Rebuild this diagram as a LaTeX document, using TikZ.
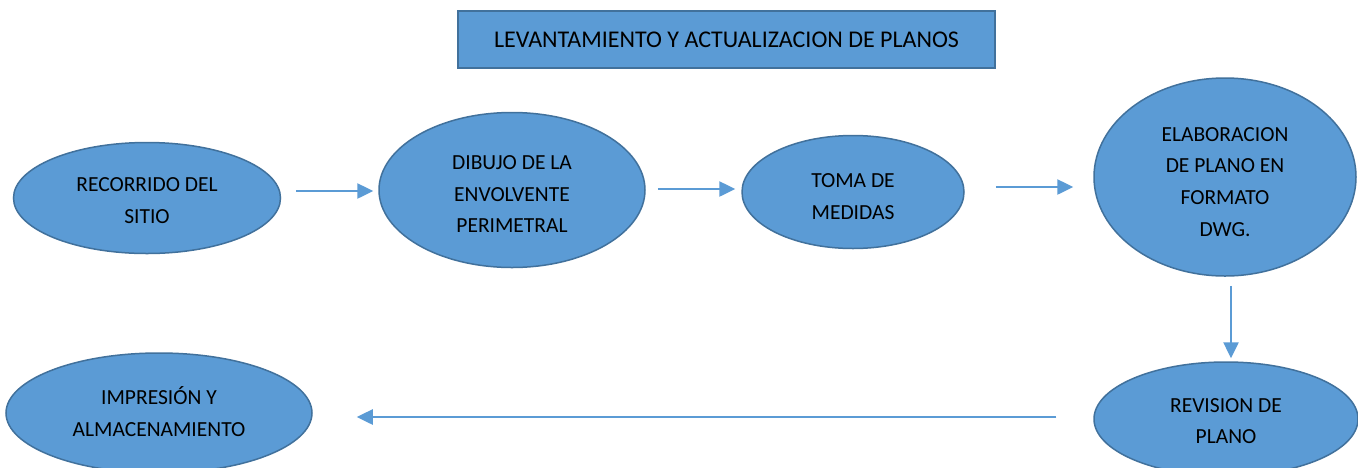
\documentclass[tikz,border=0pt]{standalone}
\usepackage{fontspec}
\setmainfont{Carlito}
\usepackage{tikz}
\usetikzlibrary{
  arrows.meta,
  shapes.geometric,
  positioning
}
\definecolor{boxfill}{HTML}{5B9BD5}
\definecolor{boxline}{HTML}{41719C}

\begin{document}
\begin{tikzpicture}[
      x=1pt, y=-1pt,
      titlebox/.style={
         rectangle,
         minimum width=537pt,
         minimum height=57pt,
         line width=2pt,
         draw=boxline,
         fill=boxfill,
         font=\fontsize{24}{32}\selectfont
      },
      stage/.style={
         ellipse,
         inner sep=0pt,
         line width=1.5pt,
         draw=boxline,
         fill=boxfill,
         align=center,
         text depth=0pt,
         font=\fontsize{21.5}{31.7}\selectfont
      },
      tip/.style={-{Triangle[length=16pt,width=15pt]},line width=2.5pt,draw=boxfill},
    ]
    \fill[white] (0,0) rectangle (1358,467);
    \useasboundingbox (0,0) rectangle (1358,467);
    \clip (0,0) rectangle (1358,467);
    \node (n0) [titlebox] at (726.5,39.5) {LEVANTAMIENTO Y ACTUALIZACION DE PLANOS};
    \node (n11) [stage, minimum width=267pt, minimum height=111pt, text height=50.8pt] at (147,198) {RECORRIDO DEL\\SITIO};
    \node (n12) [stage, minimum width=266pt, minimum height=155pt, text height=85.5pt] at (512,190) {DIBUJO DE LA\\ENVOLVENTE\\PERIMETRAL};
    \node (n13) [stage, minimum width=222pt, minimum height=113pt, text height=54.8pt] at (853,192) {TOMA DE\\MEDIDAS};
    \node (n14) [stage, minimum width=262pt, minimum height=198pt, text height=118.2pt] at (1225,177) {ELABORACION\\DE PLANO EN\\FORMATO\\DWG.};
    \node (n21) [stage, minimum width=264pt, minimum height=114pt, text height=49.8pt] at (1226,419) {REVISION DE\\PLANO};
    \node (n22) [stage, minimum width=306pt, minimum height=120pt, text height=47.2pt] at (159,413) {IMPRESIÓN Y\\ALMACENAMIENTO};
    % flow
    \draw[tip] ([shift={(15,-7)}]n11.east) -- ([shift={(-5,1)}]n12.west);
    \draw[tip] ([shift={(12,-1)}]n12.east) -- ([shift={(-6,-3)}]n13.west);
    \draw[tip] ([shift={(31,-5)}]n13.east) -- ([shift={(-20,10)}]n14.west);
    \draw[tip] ([shift={(6,9)}]n14.south) -- ([shift={(5,-3)}]n21.north);
    \draw[tip] ([shift={(-37,-2)}]n21.west) -- ([shift={(44,4)}]n22.east);
\end{tikzpicture}
\end{document}
